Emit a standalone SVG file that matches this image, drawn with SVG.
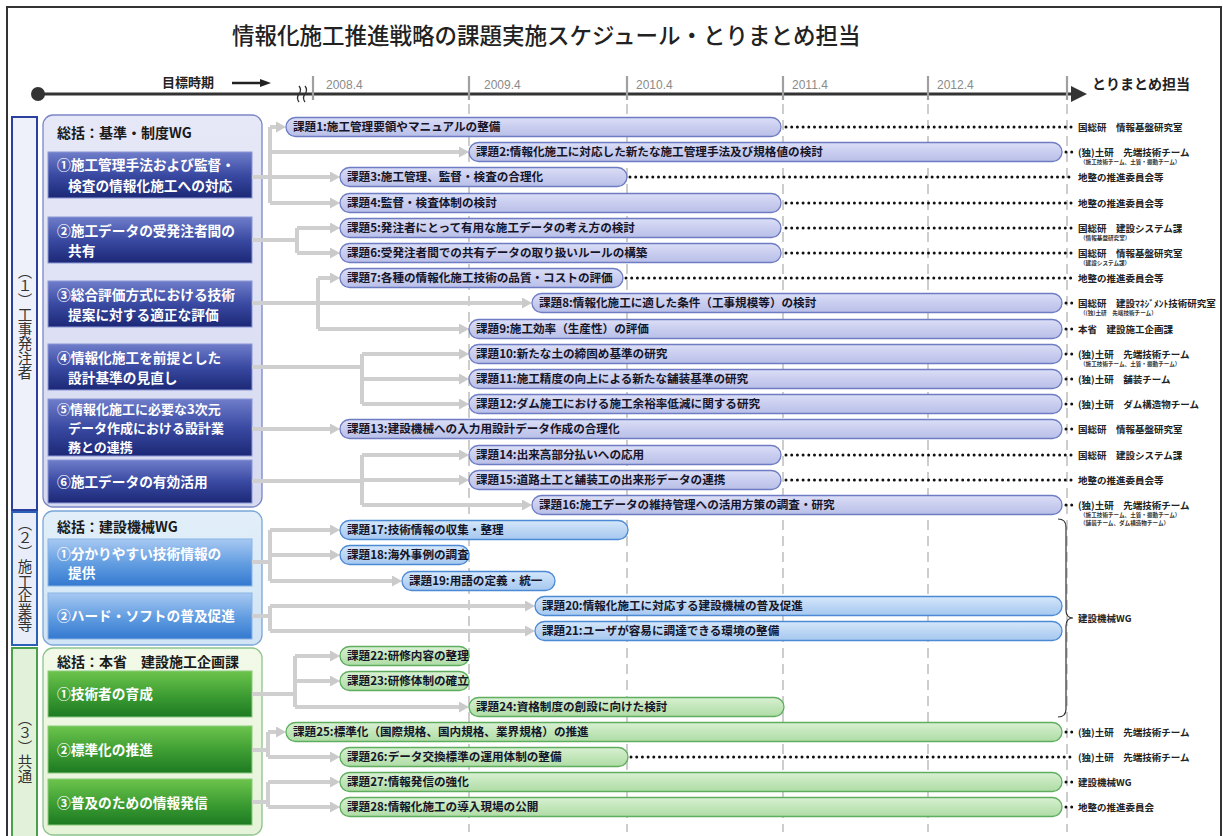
<svg xmlns="http://www.w3.org/2000/svg" width="1223" height="836" viewBox="0 0 1223 836">
<defs>
<style>
.jp{font-family:'Noto Sans CJK JP','Noto Sans CJK SC',sans-serif}
.ttl{font-size:22.5px;font-weight:500;fill:#222}
.bt{font-size:11.6px;font-weight:700;fill:#15152a}
.sb{font-size:13.7px;font-weight:700;fill:#fff}
.sb5{font-size:13px;font-weight:700;fill:#fff}
.pt{font-size:14px;font-weight:700;fill:#1a1a1a}
.rl{font-size:9.5px;font-weight:700;fill:#222}
.rs{font-size:5.6px;font-weight:700;fill:#333}
.cat{font-size:14.5px;fill:#333}
.yr{font-family:'Liberation Sans',Arial,sans-serif;font-size:12px;fill:#8a8a8a}
.conn{stroke:#cfcfcf;stroke-width:4;fill:none}
.arr{stroke:#cfcfcf;stroke-width:4;fill:none;marker-end:url(#ah)}
.dots{stroke:#111;stroke-width:3;stroke-linecap:round;stroke-dasharray:0 5.7;fill:none}
.grid{stroke:#cdcdcd;stroke-width:2;stroke-dasharray:10 6;fill:none}
.tick{stroke:#a0a0a0;stroke-width:2.2}
.barA{fill:url(#gA);stroke:#6e7cc4;stroke-width:1.3}
.barB{fill:url(#gB);stroke:#4c8ad6;stroke-width:1.3}
.barC{fill:url(#gC);stroke:#5fae5f;stroke-width:1.3}
.sbA{fill:url(#gSA);stroke:#8a96d6;stroke-width:1}
.sbB{fill:url(#gSB);stroke:#8ab4e6;stroke-width:1}
.sbC{fill:url(#gSC);stroke:#8acb7c;stroke-width:1}
</style>
<linearGradient id="gA" x1="0" y1="0" x2="0" y2="1"><stop offset="0" stop-color="#dcdff6"/><stop offset="0.5" stop-color="#c9cdef"/><stop offset="1" stop-color="#b9bfe8"/></linearGradient>
<linearGradient id="gB" x1="0" y1="0" x2="0" y2="1"><stop offset="0" stop-color="#d6e8fa"/><stop offset="0.5" stop-color="#bcd6f4"/><stop offset="1" stop-color="#a6c8f0"/></linearGradient>
<linearGradient id="gC" x1="0" y1="0" x2="0" y2="1"><stop offset="0" stop-color="#d9f0d3"/><stop offset="0.5" stop-color="#c2e6ba"/><stop offset="1" stop-color="#afdca6"/></linearGradient>
<linearGradient id="gSA" x1="0" y1="0" x2="0" y2="1"><stop offset="0" stop-color="#6f7dca"/><stop offset="0.5" stop-color="#3a4aa2"/><stop offset="1" stop-color="#1c2876"/></linearGradient>
<linearGradient id="gSB" x1="0" y1="0" x2="0" y2="1"><stop offset="0" stop-color="#a8c9f2"/><stop offset="0.55" stop-color="#5f9be0"/><stop offset="1" stop-color="#3479d0"/></linearGradient>
<linearGradient id="gSC" x1="0" y1="0" x2="0" y2="1"><stop offset="0" stop-color="#6cc44c"/><stop offset="0.55" stop-color="#3c9c32"/><stop offset="1" stop-color="#1d7a22"/></linearGradient>
<linearGradient id="gP1" x1="0" y1="0" x2="0" y2="1"><stop offset="0" stop-color="#e6e8f7"/><stop offset="1" stop-color="#d6daf1"/></linearGradient>
<linearGradient id="gP2" x1="0" y1="0" x2="0" y2="1"><stop offset="0" stop-color="#e2eff9"/><stop offset="1" stop-color="#d0e4f5"/></linearGradient>
<linearGradient id="gP3" x1="0" y1="0" x2="0" y2="1"><stop offset="0" stop-color="#f2f9e8"/><stop offset="1" stop-color="#e5f3d8"/></linearGradient>
<marker id="ah" markerUnits="userSpaceOnUse" markerWidth="10" markerHeight="11" refX="3" refY="5.5" orient="auto"><path d="M0,0 L10,5.5 L0,11 z" fill="#cacaca"/></marker>
</defs>
<rect width="1223" height="836" fill="#fff"/>
<rect x="7" y="7" width="1214" height="840" fill="none" stroke="#333" stroke-width="2"/>

<g id="title"><text class="jp ttl" x="232" y="44">情報化施工推進戦略の課題実施スケジュール・とりまとめ担当</text></g>

<g id="timeline">
<line x1="38" y1="94" x2="1074" y2="94" stroke="#333" stroke-width="3"/>
<circle cx="38" cy="94" r="7" fill="#333"/>
<path d="M1071,86 L1087,94 L1071,102 z" fill="#333"/>
<text class="jp" x="162" y="87" font-size="13" font-weight="700" fill="#222">目標時期</text>
<line x1="232" y1="83" x2="262" y2="83" stroke="#222" stroke-width="2.5"/>
<path d="M260,79 L271,83 L260,87 z" fill="#222"/>
<path d="M299,86 q3,4 0,8 q-3,4 0,8 M305,86 q3,4 0,8 q-3,4 0,8" stroke="#333" stroke-width="1.3" fill="none"/>
<line class="tick" x1="313" y1="76" x2="313" y2="100"/>
<line class="tick" x1="469" y1="76" x2="469" y2="100"/>
<line class="tick" x1="627" y1="76" x2="627" y2="100"/>
<line class="tick" x1="783" y1="76" x2="783" y2="100"/>
<line class="tick" x1="928" y1="76" x2="928" y2="100"/>
<line class="tick" x1="1067" y1="76" x2="1067" y2="100"/>
<text class="yr" x="326" y="89">2008.4</text>
<text class="yr" x="484" y="89">2009.4</text>
<text class="yr" x="636" y="89">2010.4</text>
<text class="yr" x="792" y="89">2011.4</text>
<text class="yr" x="937" y="89">2012.4</text>
<text class="jp" x="1092" y="89" font-size="14" font-weight="700" fill="#222">とりまとめ担当</text>
</g>

<g id="grid">
<path class="grid" d="M469,104 V832 M627,104 V832 M783,104 V832 M928,104 V832 M1067,104 V832"/>
</g>

<g id="cat1"><rect x="12" y="117" width="25" height="393" fill="#eef0fa" stroke="#2b3f9e" stroke-width="2"/><text class="jp cat" x="25" y="322" writing-mode="vertical-rl" text-anchor="middle">（１）工事発注者</text></g>
<g id="cat2"><rect x="12" y="512" width="25" height="133" fill="#e9edf9" stroke="#2b5fb8" stroke-width="2"/><text class="jp cat" x="25" y="574" writing-mode="vertical-rl" text-anchor="middle">（２）施工企業等</text></g>
<g id="cat3"><rect x="12" y="648" width="25" height="195" fill="#e2f2da" stroke="#4aa04a" stroke-width="2"/><text class="jp cat" x="25" y="747" writing-mode="vertical-rl" text-anchor="middle">（３）共通</text></g>

<g id="panel1"><rect x="43" y="115" width="219" height="392" rx="10" fill="url(#gP1)" stroke="#7b86c6" stroke-width="1.3"/><text class="jp pt" x="57" y="138">総括：基準・制度WG</text></g>
<g id="panel2"><rect x="43" y="511" width="219" height="134" rx="10" fill="url(#gP2)" stroke="#7aa6d6" stroke-width="1.3"/><text class="jp pt" x="57" y="532">総括：建設機械WG</text></g>
<g id="panel3"><rect x="43" y="648" width="219" height="187" rx="10" fill="url(#gP3)" stroke="#8cc48c" stroke-width="1.3"/><text class="jp pt" x="57" y="667">総括：本省　建設施工企画課</text></g>

<g id="s1-1"><rect class="sbA" x="48" y="152" width="204" height="46"/><text class="jp sb" x="57" y="170">①施工管理手法および監督・</text><text class="jp sb" x="68" y="191">検査の情報化施工への対応</text></g>
<g id="s1-2"><rect class="sbA" x="48" y="217" width="204" height="46"/><text class="jp sb" x="57" y="236">②施工データの受発注者間の</text><text class="jp sb" x="68" y="256">共有</text></g>
<g id="s1-3"><rect class="sbA" x="48" y="281" width="204" height="46"/><text class="jp sb" x="57" y="300">③総合評価方式における技術</text><text class="jp sb" x="68" y="320">提案に対する適正な評価</text></g>
<g id="s1-4"><rect class="sbA" x="48" y="344" width="204" height="46"/><text class="jp sb" x="57" y="363">④情報化施工を前提とした</text><text class="jp sb" x="68" y="383">設計基準の見直し</text></g>
<g id="s1-5"><rect class="sbA" x="48" y="399" width="204" height="57"/><text class="jp sb5" x="57" y="414">⑤情報化施工に必要な3次元</text><text class="jp sb5" x="68" y="433">データ作成における設計業</text><text class="jp sb5" x="68" y="452">務との連携</text></g>
<g id="s1-6"><rect class="sbA" x="48" y="460" width="204" height="43"/><text class="jp sb" x="57" y="487">⑥施工データの有効活用</text></g>
<g id="s2-1"><rect class="sbB" x="48" y="539" width="204" height="47"/><text class="jp sb" x="57" y="559">①分かりやすい技術情報の</text><text class="jp sb" x="68" y="578">提供</text></g>
<g id="s2-2"><rect class="sbB" x="48" y="593" width="204" height="46"/><text class="jp sb" x="57" y="621">②ハード・ソフトの普及促進</text></g>
<g id="s3-1"><rect class="sbC" x="48" y="671" width="204" height="46"/><text class="jp sb" x="57" y="699">①技術者の育成</text></g>
<g id="s3-2"><rect class="sbC" x="48" y="726" width="204" height="47"/><text class="jp sb" x="57" y="755">②標準化の推進</text></g>
<g id="s3-3"><rect class="sbC" x="48" y="779" width="204" height="46"/><text class="jp sb" x="57" y="808">③普及のための情報発信</text></g>

<g id="connectors">
<path class="conn" d="M270,127 V203 M252,240 H297 M297,228 V253 M318,278 V329 M252,367 H362 M362,354 V404 M252,481 H362 M362,455 V505 M252,562 H270 M270,530 V581 M252,616 H270 M270,606 V631 M252,694 H295 M295,656 V707 M252,750 H268 M268,732 V757 M252,802 H268 M268,782 V807"/>
<path class="arr" d="M270,127 H279"/>
<path class="arr" d="M270,152 H462"/>
<path class="arr" d="M252,177 H333"/>
<path class="arr" d="M270,203 H333"/>
<path class="arr" d="M297,228 H333"/>
<path class="arr" d="M297,253 H333"/>
<path class="arr" d="M318,278 H333"/>
<path class="arr" d="M252,303 H525"/>
<path class="arr" d="M318,329 H462"/>
<path class="arr" d="M362,354 H462"/>
<path class="arr" d="M362,379 H462"/>
<path class="arr" d="M362,404 H462"/>
<path class="arr" d="M252,429 H333"/>
<path class="arr" d="M362,455 H462"/>
<path class="arr" d="M362,480 H462"/>
<path class="arr" d="M362,505 H525"/>
<path class="arr" d="M270,530 H333"/>
<path class="arr" d="M270,555 H333"/>
<path class="arr" d="M270,581 H395"/>
<path class="arr" d="M270,606 H528"/>
<path class="arr" d="M270,631 H528"/>
<path class="arr" d="M295,656 H333"/>
<path class="arr" d="M295,681 H333"/>
<path class="arr" d="M295,707 H462"/>
<path class="arr" d="M268,732 H279"/>
<path class="arr" d="M268,757 H333"/>
<path class="arr" d="M268,782 H333"/>
<path class="arr" d="M268,807 H333"/>
<path class="dots" d="M786,127 H1072 M1066,152 H1072 M630,177 H1072 M786,203 H1072 M786,228 H1072 M786,253 H1072 M626,278 H1072 M1066,303 H1072 M1066,329 H1072 M1066,354 H1072 M1066,379 H1072 M1066,404 H1072 M1066,429 H1072 M786,455 H1072 M786,480 H1072 M1066,505 H1072 M1066,732 H1072 M631,757 H1072 M1066,782 H1072 M1066,807 H1072"/>
<path d="M1058,519 Q1066,519 1066,527 L1066,610 Q1066,618 1073,618 Q1066,618 1066,626 L1066,709 Q1066,717 1058,717" fill="none" stroke="#333" stroke-width="1.2"/>
</g>

<g id="t1"><rect class="barA" x="286" y="117.5" width="495" height="19" rx="9.5"/><text class="jp bt" x="293" y="131">課題1:施工管理要領やマニュアルの整備</text></g>
<g id="t2"><rect class="barA" x="469" y="142.5" width="593" height="19" rx="9.5"/><text class="jp bt" x="476" y="156">課題2:情報化施工に対応した新たな施工管理手法及び規格値の検討</text></g>
<g id="t3"><rect class="barA" x="340" y="167.5" width="287" height="19" rx="9.5"/><text class="jp bt" x="347" y="181">課題3:施工管理、監督・検査の合理化</text></g>
<g id="t4"><rect class="barA" x="340" y="193.5" width="441" height="19" rx="9.5"/><text class="jp bt" x="347" y="207">課題4:監督・検査体制の検討</text></g>
<g id="t5"><rect class="barA" x="340" y="218.5" width="441" height="19" rx="9.5"/><text class="jp bt" x="347" y="232">課題5:発注者にとって有用な施工データの考え方の検討</text></g>
<g id="t6"><rect class="barA" x="340" y="243.5" width="441" height="19" rx="9.5"/><text class="jp bt" x="347" y="257">課題6:受発注者間での共有データの取り扱いルールの構築</text></g>
<g id="t7"><rect class="barA" x="340" y="268.5" width="283" height="19" rx="9.5"/><text class="jp bt" x="347" y="282">課題7:各種の情報化施工技術の品質・コストの評価</text></g>
<g id="t8"><rect class="barA" x="532" y="293.5" width="530" height="19" rx="9.5"/><text class="jp bt" x="539" y="307">課題8:情報化施工に適した条件（工事規模等）の検討</text></g>
<g id="t9"><rect class="barA" x="469" y="319.5" width="593" height="19" rx="9.5"/><text class="jp bt" x="476" y="333">課題9:施工効率（生産性）の評価</text></g>
<g id="t10"><rect class="barA" x="469" y="344.5" width="593" height="19" rx="9.5"/><text class="jp bt" x="476" y="358">課題10:新たな土の締固め基準の研究</text></g>
<g id="t11"><rect class="barA" x="469" y="369.5" width="593" height="19" rx="9.5"/><text class="jp bt" x="476" y="383">課題11:施工精度の向上による新たな舗装基準の研究</text></g>
<g id="t12"><rect class="barA" x="469" y="394.5" width="593" height="19" rx="9.5"/><text class="jp bt" x="476" y="408">課題12:ダム施工における施工余裕率低減に関する研究</text></g>
<g id="t13"><rect class="barA" x="340" y="419.5" width="722" height="19" rx="9.5"/><text class="jp bt" x="347" y="433">課題13:建設機械への入力用設計データ作成の合理化</text></g>
<g id="t14"><rect class="barA" x="469" y="445.5" width="312" height="19" rx="9.5"/><text class="jp bt" x="476" y="459">課題14:出来高部分払いへの応用</text></g>
<g id="t15"><rect class="barA" x="469" y="470.5" width="312" height="19" rx="9.5"/><text class="jp bt" x="476" y="484">課題15:道路土工と舗装工の出来形データの連携</text></g>
<g id="t16"><rect class="barA" x="532" y="495.5" width="530" height="19" rx="9.5"/><text class="jp bt" x="539" y="509">課題16:施工データの維持管理への活用方策の調査・研究</text></g>
<g id="t17"><rect class="barB" x="340" y="520.5" width="288" height="19" rx="9.5"/><text class="jp bt" x="347" y="534">課題17:技術情報の収集・整理</text></g>
<g id="t18"><rect class="barB" x="340" y="545.5" width="129" height="19" rx="9.5"/><text class="jp bt" x="347" y="559">課題18:海外事例の調査</text></g>
<g id="t19"><rect class="barB" x="402" y="571.5" width="153" height="19" rx="9.5"/><text class="jp bt" x="409" y="585">課題19:用語の定義・統一</text></g>
<g id="t20"><rect class="barB" x="535" y="596.5" width="527" height="19" rx="9.5"/><text class="jp bt" x="542" y="610">課題20:情報化施工に対応する建設機械の普及促進</text></g>
<g id="t21"><rect class="barB" x="535" y="621.5" width="527" height="19" rx="9.5"/><text class="jp bt" x="542" y="635">課題21:ユーザが容易に調達できる環境の整備</text></g>
<g id="t22"><rect class="barC" x="340" y="646.5" width="129" height="19" rx="9.5"/><text class="jp bt" x="347" y="660">課題22:研修内容の整理</text></g>
<g id="t23"><rect class="barC" x="340" y="671.5" width="129" height="19" rx="9.5"/><text class="jp bt" x="347" y="685">課題23:研修体制の確立</text></g>
<g id="t24"><rect class="barC" x="469" y="697.5" width="315" height="19" rx="9.5"/><text class="jp bt" x="476" y="711">課題24:資格制度の創設に向けた検討</text></g>
<g id="t25"><rect class="barC" x="286" y="722.5" width="776" height="19" rx="9.5"/><text class="jp bt" x="293" y="736">課題25:標準化（国際規格、国内規格、業界規格）の推進</text></g>
<g id="t26"><rect class="barC" x="340" y="747.5" width="288" height="19" rx="9.5"/><text class="jp bt" x="347" y="761">課題26:データ交換標準の運用体制の整備</text></g>
<g id="t27"><rect class="barC" x="340" y="772.5" width="722" height="19" rx="9.5"/><text class="jp bt" x="347" y="786">課題27:情報発信の強化</text></g>
<g id="t28"><rect class="barC" x="340" y="797.5" width="722" height="19" rx="9.5"/><text class="jp bt" x="347" y="811">課題28:情報化施工の導入現場の公開</text></g>

<g id="owners">
<text class="jp rl" x="1078" y="130.5">国総研　情報基盤研究室</text>
<text class="jp rl" x="1078" y="155.5">(独)土研　先端技術チーム</text>
<text class="jp rs" x="1080" y="164">（施工技術チーム、土質・振動チーム）</text>
<text class="jp rl" x="1078" y="180.5">地整の推進委員会等</text>
<text class="jp rl" x="1078" y="206.5">地整の推進委員会等</text>
<text class="jp rl" x="1078" y="231.5">国総研　建設システム課</text>
<text class="jp rs" x="1080" y="240">（情報基盤研究室）</text>
<text class="jp rl" x="1078" y="256.5">国総研　情報基盤研究室</text>
<text class="jp rs" x="1080" y="265">（建設システム課）</text>
<text class="jp rl" x="1078" y="281.5">地整の推進委員会等</text>
<text class="jp rl" x="1078" y="306.5">国総研　建設ﾏﾈｼﾞﾒﾝﾄ技術研究室</text>
<text class="jp rs" x="1080" y="315">（(独)土研　先端技術チーム）</text>
<text class="jp rl" x="1078" y="332.5">本省　建設施工企画課</text>
<text class="jp rl" x="1078" y="357.5">(独)土研　先端技術チーム</text>
<text class="jp rs" x="1080" y="366">（施工技術チーム、土質・振動チーム）</text>
<text class="jp rl" x="1078" y="382.5">(独)土研　舗装チーム</text>
<text class="jp rl" x="1078" y="407.5">(独)土研　ダム構造物チーム</text>
<text class="jp rl" x="1078" y="432.5">国総研　情報基盤研究室</text>
<text class="jp rl" x="1078" y="458.5">国総研　建設システム課</text>
<text class="jp rl" x="1078" y="483.5">地整の推進委員会等</text>
<text class="jp rl" x="1078" y="508.5">(独)土研　先端技術チーム</text>
<text class="jp rs" x="1080" y="517">（施工技術チーム、土質・振動チーム）</text>
<text class="jp rs" x="1080" y="525">（舗装チーム、ダム構造物チーム）</text>
<text class="jp rl" x="1078" y="621.5">建設機械WG</text>
<text class="jp rl" x="1078" y="735.5">(独)土研　先端技術チーム</text>
<text class="jp rl" x="1078" y="760.5">(独)土研　先端技術チーム</text>
<text class="jp rl" x="1078" y="785.5">建設機械WG</text>
<text class="jp rl" x="1078" y="810.5">地整の推進委員会</text>
</g>
</svg>
